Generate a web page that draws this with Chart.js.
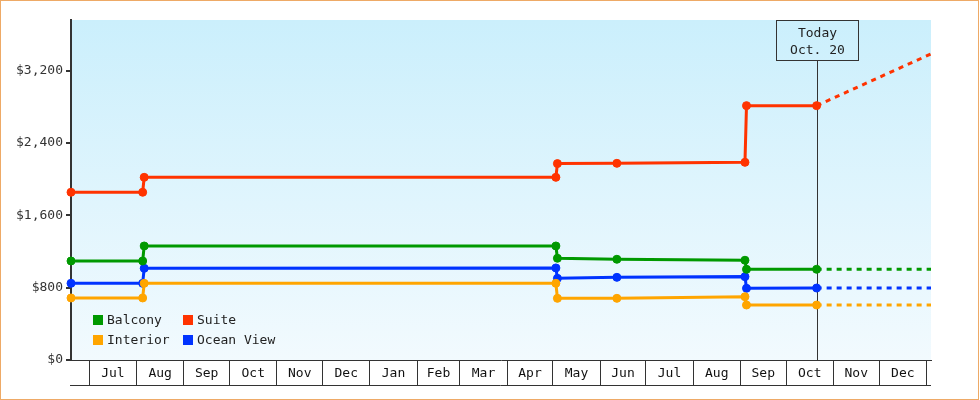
<!DOCTYPE html>
<html>
<head>
<meta charset="utf-8">
<script src="https://cdn.jsdelivr.net/npm/chart.js@4"></script>
<style>
  body { margin: 0; background: #fff; }
  #wrap { width: 980px; height: 400px; position: relative; }
</style>
</head>
<body>
<div id="wrap"><canvas id="myChart"></canvas></div>
<script>
// x values are days counted from Jul 1 of the first year
let monthStarts = [0, 31, 62, 92, 123, 153, 184, 215, 243, 274, 304, 335, 365, 396, 427, 457, 488, 518, 549];
let monthLabels = ["Jul", "Aug", "Sep", "Oct", "Nov", "Dec", "Jan", "Feb", "Mar", "Apr", "May", "Jun", "Jul", "Aug", "Sep", "Oct", "Nov", "Dec"];
let yTicks = [0, 800, 1600, 2400, 3200];

// price change days, last one is the projection end
let days = [-12, 35, 36, 306, 307, 346, 430, 431, 477, 552];
let todayDay = 477;
let todayIndex = 8;
let todayText = ["Today", "Oct. 20"];

let labels = ["Balcony", "Suite", "Interior", "Ocean View"];
let balcony = [1095, 1095, 1261, 1261, 1125, 1114, 1103, 1003, 1003, 1003];
let suite = [1855, 1855, 2020, 2020, 2172, 2175, 2186, 2813, 2813, 3385];
let interior = [686, 686, 848, 848, 682, 682, 700, 608, 608, 608];
let oceanView = [848, 848, 1014, 1018, 903, 914, 922, 793, 796, 796];
let colors = ["#009900", "#ff3300", "#ffa500", "#0033ff"];

let seriesValues = [balcony, suite, interior, oceanView];

// ticks: month boundaries (lines) and month middles (labels)
let xTickDefs = [];
for (let i = 0; i < monthLabels.length; i++) {
  xTickDefs.push({ value: monthStarts[i], label: "" });
  xTickDefs.push({ value: (monthStarts[i] + monthStarts[i + 1]) / 2, label: monthLabels[i] });
}
xTickDefs.push({ value: monthStarts[monthStarts.length - 1], label: "" });

let FONT = "13px 'DejaVu Sans Mono'";
Chart.defaults.font.family = "'DejaVu Sans Mono', monospace";
Chart.defaults.font.size = 13;
Chart.defaults.color = "#222";

let datasets = seriesValues.map((vals, k) => ({
  label: labels[k],
  data: vals.map((v, i) => ({ x: days[i], y: v })),
  borderColor: colors[k],
  backgroundColor: colors[k],
  borderWidth: 3,
  pointRadius: c => (c.dataIndex === days.length - 1 ? 0 : 4),
  pointBorderWidth: 1,
  pointBorderColor: colors[k],
  pointBackgroundColor: colors[k],
  pointHoverRadius: 0,
  tension: 0,
  clip: false,
  segment: {
    borderDash: c => (c.p0DataIndex >= todayIndex ? [5, 5] : undefined)
  }
}));

// background, today marker, legend and frame
let chartDeco = {
  id: "chartDeco",
  beforeDraw(chart) {
    let a = chart.chartArea;
    let ctx = chart.ctx;
    let g = ctx.createLinearGradient(0, a.top, 0, a.bottom);
    g.addColorStop(0, "#cbeffc");
    g.addColorStop(1, "#f2fafe");
    ctx.save();
    ctx.fillStyle = g;
    ctx.fillRect(a.left, a.top, a.right - a.left, a.bottom - a.top);
    ctx.restore();
  },
  beforeDatasetsDraw(chart) {
    let a = chart.chartArea;
    let ctx = chart.ctx;
    let x = Math.round(chart.scales.x.getPixelForValue(todayDay)) + 0.5;
    ctx.save();
    ctx.strokeStyle = "#333";
    ctx.lineWidth = 1;
    ctx.beginPath();
    ctx.moveTo(x, a.top + 40);
    ctx.lineTo(x, a.bottom);
    ctx.stroke();
    ctx.strokeRect(x - 41, a.top + 0.5, 82, 40);
    ctx.fillStyle = "#222";
    ctx.font = FONT;
    ctx.textAlign = "center";
    ctx.textBaseline = "middle";
    ctx.fillText(todayText[0], x, a.top + 14);
    ctx.fillText(todayText[1], x, a.top + 31);
    ctx.restore();
  },
  afterDraw(chart) {
    let a = chart.chartArea;
    let ctx = chart.ctx;
    ctx.save();
    // bottom line under month boxes
    ctx.strokeStyle = "#333";
    ctx.lineWidth = 1;
    ctx.beginPath();
    ctx.moveTo(a.left - 1, a.bottom + 25.5);
    ctx.lineTo(a.right, a.bottom + 25.5);
    ctx.stroke();
    // legend, 2 x 2
    ctx.font = FONT;
    ctx.textAlign = "left";
    ctx.textBaseline = "middle";
    chart.data.datasets.forEach((ds, k) => {
      let col = k % 2, row = Math.floor(k / 2);
      let sx = a.left + 22 + col * 90;
      let sy = a.bottom - 45 + row * 20;
      ctx.fillStyle = ds.borderColor;
      ctx.fillRect(sx, sy, 10, 10);
      ctx.fillStyle = "#222";
      ctx.fillText(ds.label, sx + 14, sy + 6);
    });
    // outer frame
    ctx.strokeStyle = "#eeaa66";
    ctx.strokeRect(0.5, 0.5, 978, 399);
    ctx.restore();
  }
};

let ctx = document.getElementById("myChart").getContext("2d");
let myChart = new Chart(ctx, {
  type: "line",
  data: { datasets: datasets },
  options: {
    responsive: true,
    maintainAspectRatio: false,
    animation: false,
    layout: { padding: { top: 20, right: 49, left: 0, bottom: 0 } },
    plugins: {
      legend: { display: false },
      tooltip: { enabled: false }
    },
    scales: {
      x: {
        type: "linear",
        min: -12,
        max: 552,
        afterBuildTicks: s => { s.ticks = xTickDefs.map(t => ({ value: t.value })); },
        afterFit: s => { s.height = 40; },
        border: { color: "#333", width: 1 },
        grid: {
          drawOnChartArea: false,
          tickLength: 25,
          lineWidth: 1,
          color: c => (xTickDefs[c.index] && xTickDefs[c.index].label ? "rgba(0,0,0,0)" : "#333")
        },
        ticks: {
          autoSkip: false,
          maxRotation: 0,
          padding: -19,
          color: "#111",
          callback: (v, i) => (xTickDefs[i] ? xTickDefs[i].label : "")
        }
      },
      y: {
        min: 0,
        max: 3760,
        afterBuildTicks: s => { s.ticks = yTicks.map(v => ({ value: v })); },
        afterFit: s => { s.width = 71; },
        border: { color: "#333", width: 2 },
        grid: { drawOnChartArea: false, tickLength: 5, lineWidth: 2, color: "#333" },
        ticks: {
          padding: 3,
          color: "#333",
          callback: v => "$" + v.toLocaleString("en-US")
        }
      }
    }
  },
  plugins: [chartDeco]
});
</script>
</body>
</html>
